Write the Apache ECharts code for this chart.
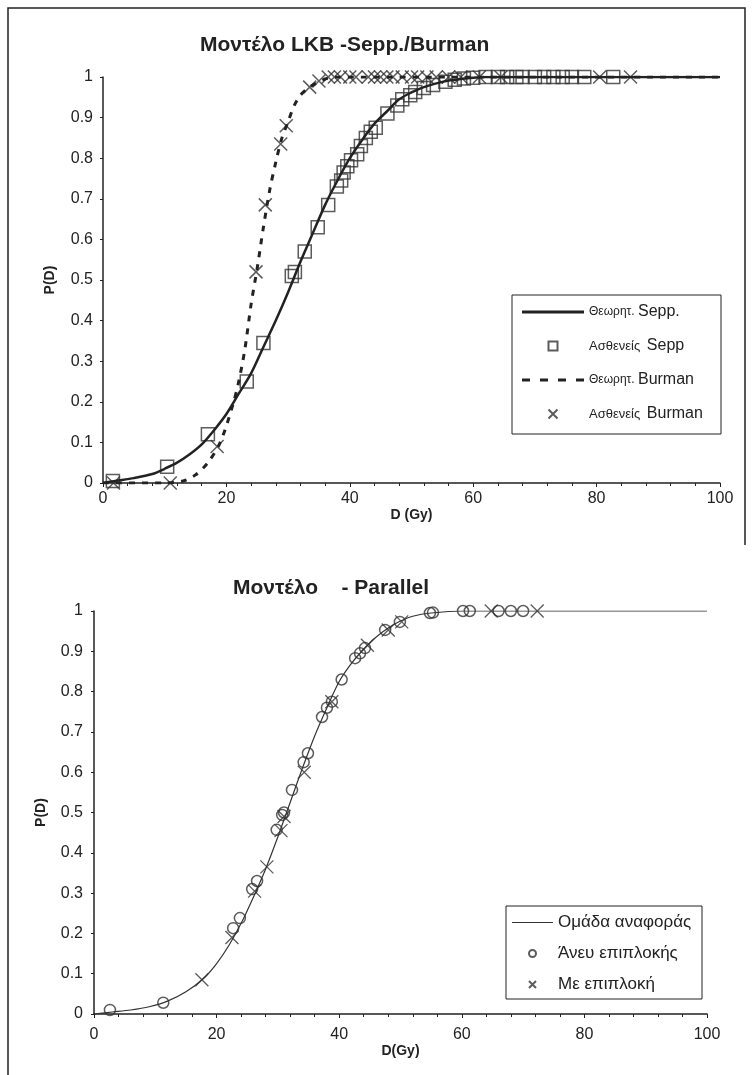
<!DOCTYPE html>
<html>
<head>
<meta charset="utf-8">
<script src="https://cdn.jsdelivr.net/npm/echarts@6/dist/echarts.min.js"></script>
<style>
  html, body { margin: 0; padding: 0; background: #fff; }
  #chart { width: 753px; height: 1075px; }
</style>
</head>
<body>
<div id="chart"></div>
<script>
// top chart: LKB model, Sepp. / Burman  (D in Gy, P(D))
const seppCurve = [
  [0, 0], [2, 0.005], [5, 0.012], [8, 0.022], [10, 0.035], [12, 0.05], [14, 0.07],
  [16, 0.095], [18, 0.13], [20, 0.17], [22, 0.22], [24, 0.27], [26, 0.335], [28, 0.4],
  [30, 0.47], [32, 0.545], [34, 0.615], [36, 0.685], [38, 0.745], [40, 0.8], [42, 0.845],
  [44, 0.885], [46, 0.915], [48, 0.945], [50, 0.962], [52, 0.975], [55, 0.988],
  [58, 0.995], [62, 1], [100, 1]
]
const seppPatients = [
  [1.6, 0.005], [10.4, 0.04], [17, 0.12], [23.3, 0.25], [26, 0.345], [30.6, 0.51],
  [31.1, 0.52], [32.7, 0.57], [34.8, 0.63], [36.5, 0.685], [37.9, 0.73], [38.6, 0.745],
  [39, 0.765], [39.6, 0.78], [40.2, 0.795], [41.2, 0.81], [41.8, 0.83], [42.6, 0.85],
  [43.4, 0.865], [44.2, 0.875], [46.1, 0.91], [47.7, 0.93], [48.5, 0.945], [49.8, 0.955],
  [50.6, 0.963], [52, 0.973], [53.5, 0.98], [55.5, 0.988], [57, 0.993], [58.5, 0.996],
  [60, 0.998], [62, 1], [64, 1], [65.5, 1], [67, 1], [68, 1], [70, 1], [71.5, 1],
  [73, 1], [74.5, 1], [76, 1], [78, 1], [82.7, 1]
]
const burmanCurve = [
  [0, 0], [10, 0], [13, 0.005], [15, 0.02], [17, 0.05], [19, 0.1], [21, 0.19],
  [22, 0.25], [23, 0.33], [24, 0.44], [25, 0.53], [26, 0.63], [27, 0.72], [28, 0.79],
  [29, 0.85], [30, 0.89], [31, 0.93], [32, 0.955], [33, 0.97], [34, 0.98], [36, 0.995],
  [38, 1], [100, 1]
]
const burmanPatients = [
  [1.7, 0], [10.9, 0], [18.5, 0.09], [24.8, 0.52], [26.3, 0.685], [28.8, 0.835],
  [29.7, 0.88], [33.5, 0.975], [35, 0.99], [36.5, 1], [37.5, 1], [38.5, 1], [40, 1],
  [41, 1], [43, 1], [44, 1], [45, 1], [46, 1], [47, 1], [48.5, 1], [50, 1], [51, 1],
  [52.5, 1], [54, 1], [56, 1], [58, 1], [61, 1], [64.5, 1], [80.5, 1], [85.5, 1]
]

// bottom chart: Parallel model
const refCurve = [
  [0, 0], [3, 0.005], [6, 0.01], [9, 0.018], [12, 0.032], [15, 0.055], [18, 0.09],
  [20, 0.125], [22, 0.17], [24, 0.225], [26, 0.29], [28, 0.36], [30, 0.44], [32, 0.525],
  [34, 0.61], [36, 0.69], [38, 0.76], [40, 0.825], [42, 0.87], [44, 0.905], [46, 0.935],
  [48, 0.958], [50, 0.975], [52, 0.987], [55, 0.995], [60, 1], [100, 1]
]
const noComplication = [
  [2.6, 0.01], [11.3, 0.028], [22.7, 0.213], [23.8, 0.238], [25.8, 0.31], [26.6, 0.33],
  [29.8, 0.457], [30.7, 0.494], [31, 0.5], [32.3, 0.556], [34.2, 0.625], [34.9, 0.647],
  [37.2, 0.737], [38, 0.76], [38.8, 0.775], [40.4, 0.83], [42.6, 0.883], [43.4, 0.895],
  [44.2, 0.908], [47.5, 0.953], [49.9, 0.973], [54.8, 0.995], [55.3, 0.996], [60.2, 1],
  [61.3, 1], [66, 1], [68, 1], [70, 1]
]
const withComplication = [
  [17.6, 0.085], [22.5, 0.19], [26.2, 0.305], [28.2, 0.365], [30.5, 0.455], [31, 0.49],
  [34.3, 0.6], [38.8, 0.775], [44.6, 0.915], [48, 0.953], [50.2, 0.973], [64.8, 1], [72.3, 1]
]

const ink = '#222'
const font = 'Liberation Sans, Arial, sans-serif'
const cross = 'path://M0,0L10,10M10,0L0,10'
// legend samples
const solidIcon = 'path://M0,0L62,0L62,3L0,3Z'
const dashIcon = 'path://M0,0L8,0L8,3L0,3ZM18,0L26,0L26,3L18,3ZM36,0L44,0L44,3L36,3ZM54,0L62,0L62,3L54,3Z'
const thinIcon = 'path://M0,0L41,0L41,1.2L0,1.2Z'
const squareIcon = 'path://M0,0L10,0L10,10L0,10Z'

function xAxis(gridIndex, name, labelMargin, nameGap) {
  return {
    type: 'value', gridIndex, min: 0, max: 100, interval: 20,
    name, nameLocation: 'middle', nameGap,
    nameTextStyle: { color: ink, fontFamily: font, fontSize: 14, fontWeight: 'bold' },
    axisLine: { lineStyle: { color: ink, width: 1.5 } },
    axisTick: { length: 4, lineStyle: { color: ink } },
    minorTick: { show: true, splitNumber: 5, length: 3, lineStyle: { color: ink } },
    axisLabel: { color: ink, fontFamily: font, fontSize: 16, margin: labelMargin },
    splitLine: { show: false }
  }
}

function yAxis(gridIndex, labelMargin) {
  return {
    type: 'value', gridIndex, min: 0, max: 1, interval: 0.1,
    name: 'P(D)', nameLocation: 'middle', nameGap: 46, nameRotate: 90,
    nameTextStyle: { color: ink, fontFamily: font, fontSize: 14, fontWeight: 'bold' },
    axisLine: { show: true, lineStyle: { color: ink, width: 1.5 } },
    axisTick: { show: true, length: 3, lineStyle: { color: ink } },
    axisLabel: { color: ink, fontFamily: font, fontSize: 16, margin: labelMargin },
    splitLine: { show: false }
  }
}

const legendRich = {
  s: { fontFamily: font, fontSize: 12, color: ink },
  m: { fontFamily: font, fontSize: 13, color: ink },
  b: { fontFamily: font, fontSize: 16, color: ink },
  g: { fontFamily: font, fontSize: 17, color: ink }
}
const legendLabels = {
  'Θεωρητ. Sepp.': '{s|Θεωρητ.} {b|Sepp.}',
  'Ασθενείς Sepp': '{m|Ασθενείς}  {b|Sepp}',
  'Θεωρητ. Burman': '{s|Θεωρητ.} {b|Burman}',
  'Ασθενείς Burman': '{m|Ασθενείς}  {b|Burman}',
  'Ομάδα αναφοράς': '{g|Ομάδα αναφοράς}',
  'Άνευ επιπλοκής': '{g|Άνευ επιπλοκής}',
  'Με επιπλοκή': '{g|Με επιπλοκή}'
}

const option = {
  backgroundColor: '#fff',
  animation: false,
  title: [
    { text: 'Μοντέλο LKB -Sepp./Burman', left: 195, top: 30,
      textStyle: { color: ink, fontFamily: font, fontSize: 21, fontWeight: 'bold' } },
    { text: 'Μοντέλο    - Parallel', left: 228, top: 573,
      textStyle: { color: ink, fontFamily: font, fontSize: 21, fontWeight: 'bold' } }
  ],
  grid: [
    { left: 103, top: 77, width: 617, height: 406 },
    { left: 94, top: 611, width: 613, height: 403 }
  ],
  xAxis: [xAxis(0, 'D (Gy)', 8, 22), xAxis(1, 'D(Gy)', 13, 27)],
  yAxis: [yAxis(0, 10), yAxis(1, 11)],
  legend: [
    {
      orient: 'vertical', left: 522, top: 304, padding: 0,
      itemWidth: 62, itemHeight: 9, itemGap: 18,
      formatter: n => legendLabels[n], textStyle: { rich: legendRich },
      data: [
        { name: 'Θεωρητ. Sepp.', icon: solidIcon },
        { name: 'Ασθενείς Sepp', icon: squareIcon },
        { name: 'Θεωρητ. Burman', icon: dashIcon },
        { name: 'Ασθενείς Burman', icon: cross }
      ]
    },
    {
      orient: 'vertical', left: 512, top: 914, padding: 0,
      itemWidth: 41, itemHeight: 7, itemGap: 14,
      formatter: n => legendLabels[n], textStyle: { rich: legendRich },
      data: [
        { name: 'Ομάδα αναφοράς', icon: thinIcon },
        { name: 'Άνευ επιπλοκής', icon: 'circle' },
        { name: 'Με επιπλοκή', icon: cross }
      ]
    }
  ],
  graphic: [
    { type: 'rect', shape: { x: 512, y: 295, width: 209, height: 139 },
      style: { fill: '#fff', stroke: ink, lineWidth: 1 }, z: -1 },
    { type: 'rect', shape: { x: 506, y: 906, width: 196, height: 93 },
      style: { fill: '#fff', stroke: ink, lineWidth: 1 }, z: -1 },
    { type: 'polyline', shape: { points: [[8, 1075], [8, 8], [745, 8], [745, 545]] },
      style: { fill: null, stroke: ink, lineWidth: 1.5 } }
  ],
  series: [
    {
      name: 'Θεωρητ. Sepp.', type: 'line', xAxisIndex: 0, yAxisIndex: 0,
      data: seppCurve, smooth: 0.3, symbol: 'none',
      lineStyle: { color: ink, width: 2.5 }, itemStyle: { color: ink }
    },
    {
      name: 'Ασθενείς Sepp', type: 'scatter', xAxisIndex: 0, yAxisIndex: 0,
      data: seppPatients, symbol: 'rect', symbolSize: 13,
      itemStyle: { color: 'rgba(0,0,0,0)', borderColor: '#333', borderWidth: 1.5 }
    },
    {
      name: 'Θεωρητ. Burman', type: 'line', xAxisIndex: 0, yAxisIndex: 0,
      data: burmanCurve, smooth: 0.3, symbol: 'none',
      lineStyle: { color: ink, width: 3, type: [6, 7] }, itemStyle: { color: ink }
    },
    {
      name: 'Ασθενείς Burman', type: 'scatter', xAxisIndex: 0, yAxisIndex: 0,
      data: burmanPatients, symbol: cross, symbolSize: 13,
      itemStyle: { color: 'rgba(0,0,0,0)', borderColor: '#333', borderWidth: 1.5 }
    },
    {
      name: 'Ομάδα αναφοράς', type: 'line', xAxisIndex: 1, yAxisIndex: 1,
      data: refCurve, smooth: 0.3, symbol: 'none',
      lineStyle: { color: '#333', width: 1.2 }, itemStyle: { color: '#333' }
    },
    {
      name: 'Άνευ επιπλοκής', type: 'scatter', xAxisIndex: 1, yAxisIndex: 1,
      data: noComplication, symbol: 'circle', symbolSize: 11,
      itemStyle: { color: 'rgba(0,0,0,0)', borderColor: '#333', borderWidth: 1.5 }
    },
    {
      name: 'Με επιπλοκή', type: 'scatter', xAxisIndex: 1, yAxisIndex: 1,
      data: withComplication, symbol: cross, symbolSize: 13,
      itemStyle: { color: 'rgba(0,0,0,0)', borderColor: '#333', borderWidth: 1.3 }
    }
  ]
}

const chart = echarts.init(document.getElementById('chart'))
chart.setOption(option)
</script>
</body>
</html>
